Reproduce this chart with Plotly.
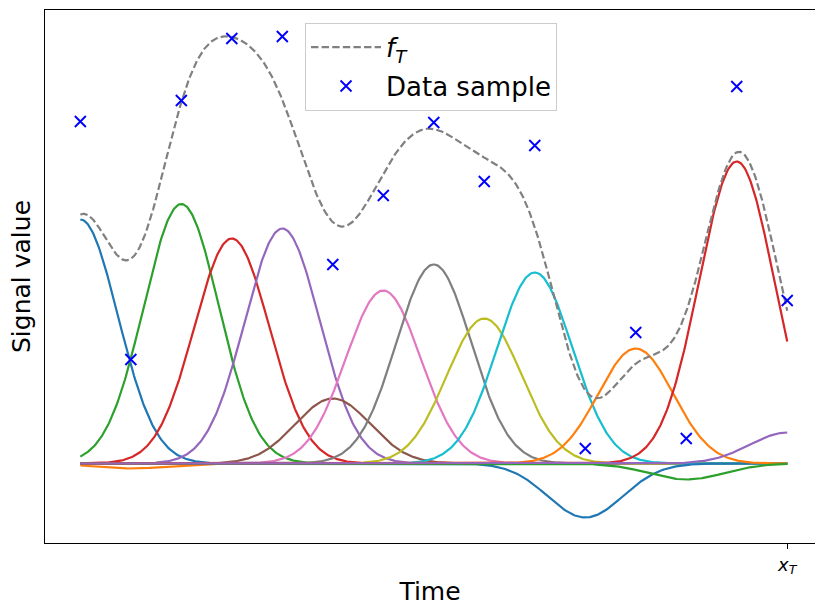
import numpy as np
import plotly.graph_objects as go

# Sample times and observed values
sample_times = list(range(15))
sample_values = [3.42, 1.04, 3.63, 4.25, 4.27, 1.99, 2.68, 3.41,
                 2.82, 3.18, 0.15, 1.31, 0.25, 3.77, 1.63]

# Weight of the Gaussian basis function centred on each sample time
basis_weights = [2.44, -0.05, 2.595, 2.25, 2.35, 0.65, 1.73, 1.99,
                 1.45, 1.91, -0.54, 1.15, -0.16, 3.02, 0.31]
kernel_width = 0.743

# x-axis tick
tick_positions = [14]
tick_labels = ["<i>x<sub>T</sub></i>"]

# Visible window
x_limits = [-0.7, 14.55]
y_limits = [-0.795, 4.535]

palette = ["#1f77b4", "#ff7f0e", "#2ca02c", "#d62728", "#9467bd",
           "#8c564b", "#e377c2", "#7f7f7f", "#bcbd22", "#17becf"]

t = np.linspace(sample_times[0], sample_times[-1], 700)
components = [w * np.exp(-(t - c) ** 2 / (2 * kernel_width ** 2))
              for c, w in zip(sample_times, basis_weights)]
f_T = np.sum(components, axis=0)

fig = go.Figure()
for i, comp in enumerate(components):
    fig.add_trace(go.Scatter(
        x=t, y=comp, mode="lines",
        line=dict(color=palette[i % len(palette)], width=2.2),
        showlegend=False, hoverinfo="skip"))

fig.add_trace(go.Scatter(
    x=t, y=f_T, mode="lines", name="<i>f<sub>T</sub></i>",
    line=dict(color="#808080", width=2.2, dash="7.4px,3.2px"),
    legendgroup="a"))

fig.add_trace(go.Scatter(
    x=sample_times, y=sample_values, mode="markers", name="Data sample",
    marker=dict(symbol="x-thin", size=11, color="blue",
                line=dict(color="blue", width=1.9)),
    legendgroup="b"))

fig.update_layout(
    width=815, height=606,
    margin=dict(l=45, r=0, t=10, b=63),
    plot_bgcolor="white", paper_bgcolor="white",
    font=dict(family="DejaVu Sans", color="black"),
    xaxis=dict(
        range=x_limits, showgrid=False, zeroline=False,
        showline=True, linecolor="black", linewidth=1.2, mirror=True,
        tickmode="array", tickvals=tick_positions, ticktext=tick_labels,
        ticks="outside", ticklen=5, tickwidth=1.2, tickcolor="black",
        tickfont=dict(size=18),
        title=dict(text="Time", font=dict(size=25), standoff=8)),
    yaxis=dict(
        range=y_limits, showgrid=False, zeroline=False,
        showline=True, linecolor="black", linewidth=1.2,
        showticklabels=False, ticks="",
        title=dict(text="Signal value", font=dict(size=25), standoff=6)),
    legend=dict(
        x=0.3377, y=0.976, xanchor="left", yanchor="top",
        bgcolor="rgba(255,255,255,0.8)", bordercolor="#cccccc", borderwidth=1,
        font=dict(size=26), tracegroupgap=2, itemwidth=70),
)

fig.write_html("out.html")
